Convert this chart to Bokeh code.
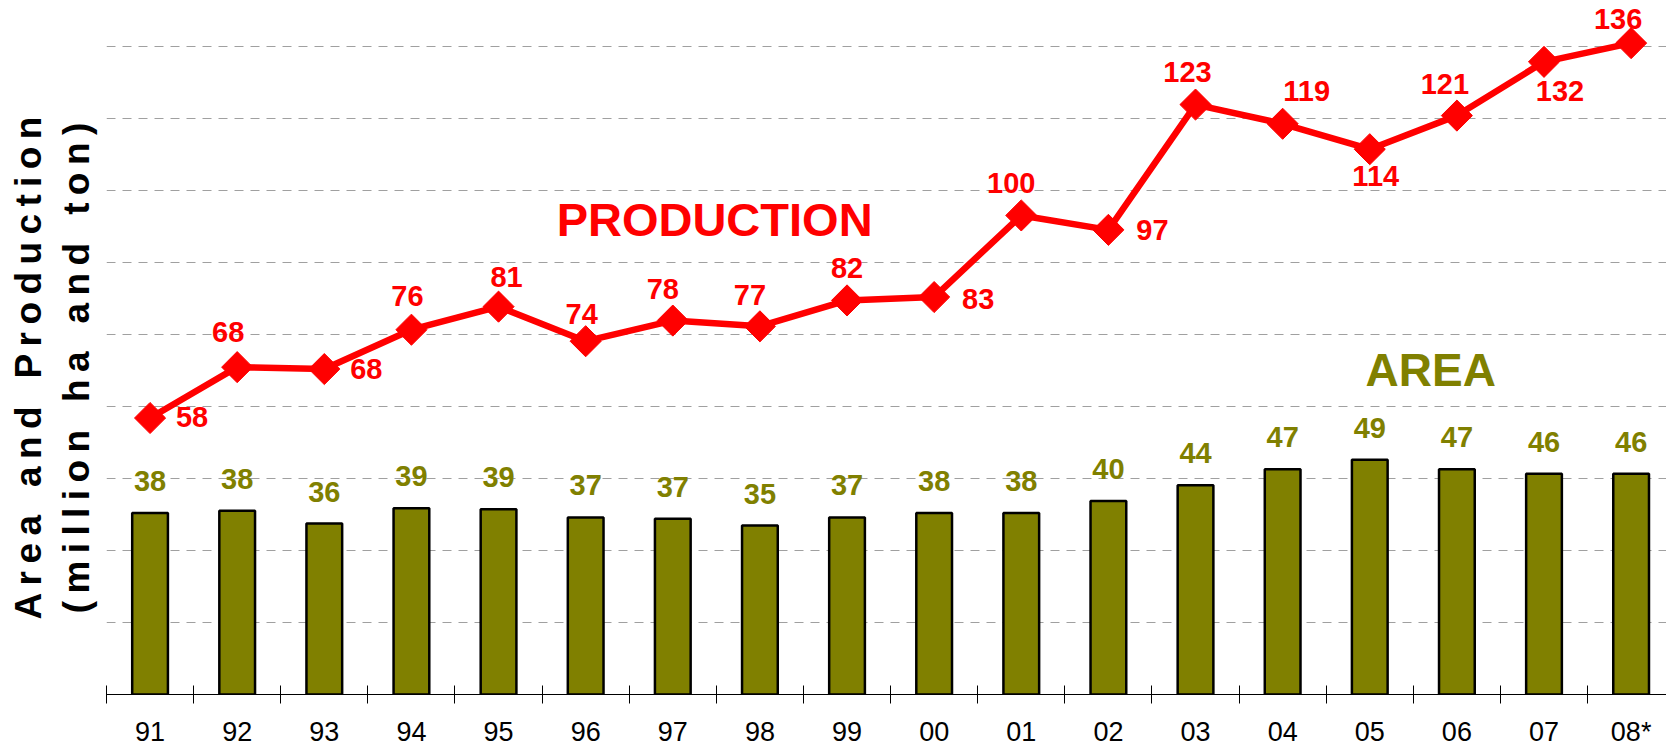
import numpy as np
from bokeh.plotting import figure
from bokeh.models import (Range1d, FixedTicker, LinearAxis, CustomJSTickFormatter,
                          ColumnDataSource, Label)
from bokeh.core.properties import value
from bokeh.embed import file_html
from bokeh.resources import INLINE

# ---------------- data ----------------
years = ["91", "92", "93", "94", "95", "96", "97", "98", "99",
         "00", "01", "02", "03", "04", "05", "06", "07", "08*"]
area = [37.8, 38.3, 35.6, 38.8, 38.6, 36.9, 36.6, 35.2, 36.9,
        37.8, 37.8, 40.3, 43.6, 46.9, 48.9, 46.9, 46.0, 46.0]
production = [57.6, 68.2, 67.8, 76.0, 80.8, 73.6, 77.9, 76.7, 82.1,
              82.8, 99.8, 96.8, 122.9, 118.9, 113.6, 120.6, 131.8, 135.7]
grid_values = [15, 30, 45, 60, 75, 90, 105, 120, 135]

# ---------------- label placement (style, screen px) ----------------
prod_dx = [42, -9, 42, -4, 8, -4, -10, -10, 0, 44, -10, 44, -8, 24, 6, -12, 16, -13]
prod_dy = [-1, -35, 0, -34, -30, -27, -32, -31, -32, 2, -32, 0, -33, -33, 27, -32, 29, -24]

FONT = "Liberation Sans"
OLIVE = "#808000"
RED = "#ff0000"
NB = "\u00a0"
TH = "\u2009"


def spaced(words):
    return (NB + TH + NB).join(TH.join(list(w)) for w in words)


line1 = spaced(["Area", "and", "Production"]) + NB * 4
line2 = spaced(["(million", "ha", "and", "ton)"]) + NB * 4

xc = np.arange(len(years)) + 0.5

src = ColumnDataSource(dict(
    x=xc,
    area=area,
    prod=production,
    area_lbl=[str(int(round(v))) for v in area],
    prod_lbl=[str(int(round(v))) for v in production],
    dx=prod_dx,
    dy=prod_dy,
))

p = figure(width=1666, height=750,
           x_range=Range1d(0, 17.906), y_range=Range1d(0, 144.58),
           output_backend="svg", toolbar_location=None, title=None,
           min_border_left=106, min_border_right=0, min_border_top=0,
           min_border_bottom=56)
p.outline_line_color = None
p.background_fill_color = "white"

# bars
p.vbar(x="x", top="area", width=0.41, fill_color=OLIVE, line_color="black",
       line_width=2.5, source=src)
# production line + markers
p.line("x", "prod", line_width=6.5, color=RED, source=src)
p.scatter("x", "prod", marker="square", size=22, angle=np.pi / 4,
          fill_color=RED, line_color=RED, source=src)

# value labels
p.text("x", "area", text="area_lbl", y_offset=-32, text_align="center",
       text_baseline="middle", text_font=value(FONT), text_font_style="bold",
       text_font_size="29px", text_color=OLIVE, source=src)
p.text("x", "prod", text="prod_lbl", x_offset="dx", y_offset="dy",
       text_align="center", text_baseline="middle", text_font=value(FONT),
       text_font_style="bold", text_font_size="29px", text_color=RED, source=src)

# series names
p.add_layout(Label(x=6.98, y=98.9, text="PRODUCTION", text_align="center",
                   text_baseline="middle", text_font=FONT, text_font_style="bold",
                   text_font_size="47px", text_color=RED))
p.add_layout(Label(x=15.2, y=67.5, text="AREA", text_align="center",
                   text_baseline="middle", text_font=FONT, text_font_style="bold",
                   text_font_size="46px", text_color=OLIVE))

# x axis: labels at centres, tick marks at boundaries (minor ticks)
p.xaxis.ticker = FixedTicker(ticks=list(xc), minor_ticks=list(range(len(years))))
p.xaxis.formatter = CustomJSTickFormatter(
    args=dict(labels=years),
    code="const i = Math.floor(tick); return (i >= 0 && i < labels.length) ? labels[i] : '';")
p.xaxis.major_tick_in = 0
p.xaxis.major_tick_out = 0
p.xaxis.minor_tick_in = 9
p.xaxis.minor_tick_out = 9
p.xaxis.minor_tick_line_color = "black"
p.xaxis.axis_line_color = "black"
p.xaxis.major_label_text_font = FONT
p.xaxis.major_label_text_font_size = "27px"
p.xaxis.major_label_text_color = "black"
p.xaxis.major_label_standoff = 13
p.xgrid.visible = False

# y grid
p.ygrid.ticker = FixedTicker(ticks=grid_values)
p.ygrid.grid_line_color = "#a0a0a0"
p.ygrid.grid_line_dash = "9 7"
p.ygrid.grid_line_width = 1


def style_label_axis(ax, text, standoff):
    ax.ticker = FixedTicker(ticks=[])
    ax.axis_line_color = None
    ax.major_tick_line_color = None
    ax.minor_tick_line_color = None
    ax.major_label_text_font_size = "0px"
    ax.axis_label = text
    ax.axis_label_text_font = FONT
    ax.axis_label_text_font_size = "37px"
    ax.axis_label_text_font_style = "bold"
    ax.axis_label_text_color = "black"
    ax.axis_label_standoff = standoff


style_label_axis(p.yaxis[0], line2, 10)
outer = LinearAxis()
style_label_axis(outer, line1, 4)
p.add_layout(outer, "left")

open("out.html", "w").write(file_html(p, INLINE))
